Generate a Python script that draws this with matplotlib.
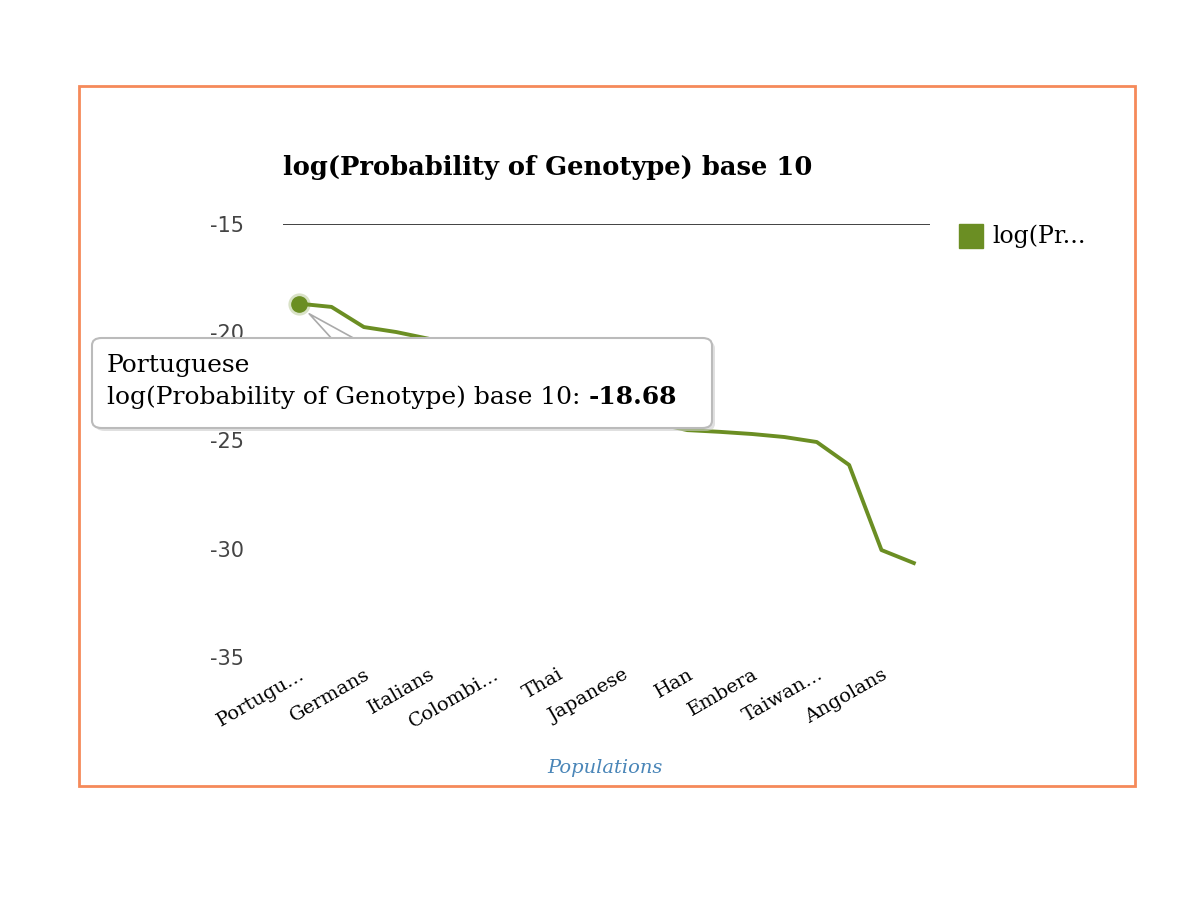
import matplotlib
matplotlib.use("Agg")
import matplotlib.pyplot as plt
from matplotlib.patches import Rectangle, FancyBboxPatch

# Chart data (points hidden by the tooltip are estimated)
tick_labels = ["Portugu...", "", "Germans", "", "Italians", "", "Colombi...", "",
               "Thai", "", "Japanese", "", "Han", "", "Embera", "", "Taiwan...", "",
               "Angolans", ""]
log_prob = [-18.68, -18.83, -19.76, -19.99, -20.3, -20.9, -21.6, -22.2, -22.8, -23.3,
            -23.8, -24.2, -24.52, -24.6, -24.7, -24.84, -25.07, -26.13, -30.06, -30.66]
y_ticks = [-15, -20, -25, -30, -35]
highlight = 0
highlight_name = "Portuguese"

LINE_COLOR = "#6b8e23"
SERIF = "DejaVu Serif"

W, H = 1200, 918
fig = plt.figure(figsize=(12, 9.18), dpi=100)

def fx(px):
    return px / W

def fy(py):
    return 1 - py / H

# orange outer frame
fig.patches.append(Rectangle((fx(79), fy(786)), fx(1135) - fx(79), fy(86) - fy(786),
                             transform=fig.transFigure, fill=False,
                             edgecolor="#f58a5a", linewidth=2))

ax = fig.add_axes([fx(283), fy(657), fx(930) - fx(283), fy(224) - fy(657)])
x = list(range(len(log_prob)))
ax.plot(x, log_prob, color=LINE_COLOR, linewidth=2.8, solid_joinstyle="round")
ax.plot([x[highlight]], [log_prob[highlight]], "o", color=LINE_COLOR,
        markersize=16, alpha=0.25, markeredgewidth=0)
ax.plot([x[highlight]], [log_prob[highlight]], "o", color=LINE_COLOR, markersize=11)

ax.set_xlim(-0.5, len(log_prob) - 0.5)
ax.set_ylim(-35, -15)
ax.axhline(-15, color="#333333", linewidth=1.3)
for s in ax.spines.values():
    s.set_visible(False)
ax.set_yticks(y_ticks)
ax.set_yticklabels([str(v) for v in y_ticks], fontsize=15, color="#444444",
                   family="DejaVu Sans")
ax.tick_params(axis="y", length=0, pad=28)
ax.set_xticks(x)
ax.set_xticklabels(tick_labels, rotation=30, ha="right", rotation_mode="anchor",
                   fontsize=14, family=SERIF)
ax.tick_params(axis="x", length=0, pad=6)

fig.text(fx(283), fy(167), "log(Probability of Genotype) base 10", fontsize=18.5,
         fontweight="bold", family=SERIF, va="center", ha="left")
fig.text(fx(605), fy(768), "Populations", fontsize=14, style="italic",
         color="#4a86b8", family=SERIF, va="center", ha="center")

# legend
fig.patches.append(Rectangle((fx(959), fy(248)), fx(983) - fx(959), fy(224) - fy(248),
                             transform=fig.transFigure, color=LINE_COLOR))
fig.text(fx(992), fy(236), "log(Pr...", fontsize=17, family=SERIF, va="center")

# tooltip pointer
px0, py0 = ax.transData.transform((x[highlight], log_prob[highlight]))
pxf, pyf = fig.transFigure.inverted().transform((px0, py0))
fig.lines.append(plt.Line2D([fx(333), pxf + fx(10), fx(357)],
                            [fy(340), pyf - 0.011, fy(340)],
                            transform=fig.transFigure, color="#aaaaaa", linewidth=1.2,
                            zorder=5))

# tooltip box with shadow
shadow = FancyBboxPatch((fx(95), fy(431)), fx(712) - fx(92), fy(338) - fy(428),
                        boxstyle="round,pad=0,rounding_size=0.008",
                        transform=fig.transFigure, facecolor="#cccccc",
                        edgecolor="none", alpha=0.6, zorder=6)
box = FancyBboxPatch((fx(92), fy(428)), fx(712) - fx(92), fy(338) - fy(428),
                     boxstyle="round,pad=0,rounding_size=0.008",
                     transform=fig.transFigure, facecolor="white",
                     edgecolor="#bbbbbb", linewidth=1.5, zorder=7)
fig.patches.append(shadow)
fig.patches.append(box)
fig.text(fx(107), fy(365), highlight_name, fontsize=18, family=SERIF,
         va="center", zorder=8)
t = fig.text(fx(107), fy(397), "log(Probability of Genotype) base 10: ", fontsize=18,
             family=SERIF, va="center", zorder=8)
fig.canvas.draw()
bb = t.get_window_extent()
fig.text(bb.x1 / W, fy(397), f"{log_prob[highlight]:.2f}", fontsize=18, family=SERIF,
         fontweight="bold", va="center", zorder=8)

fig.savefig("out.png", dpi=100)
